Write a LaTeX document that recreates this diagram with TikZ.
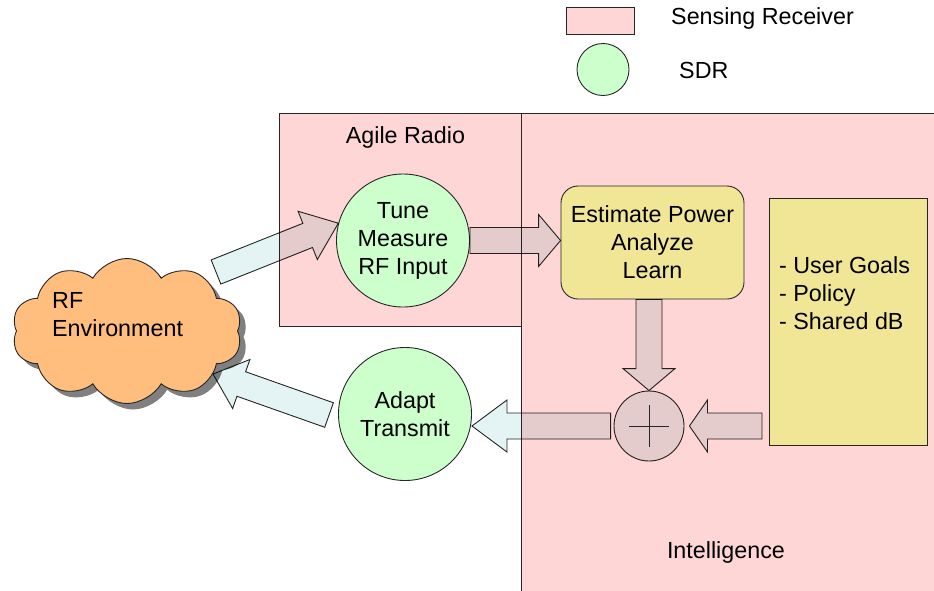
\documentclass[tikz,border=0pt]{standalone}
\usepackage{fontspec}
\setmainfont{Liberation Sans}
\usetikzlibrary{shapes.symbols,shadows,calc,positioning}

\definecolor{senspink}{RGB}{255,214,214}
\definecolor{sdrgreen}{RGB}{204,255,204}
\definecolor{procyellow}{RGB}{240,230,150}
\definecolor{envorange}{RGB}{255,190,125}
\definecolor{flowfill}{RGB}{228,244,244}

\tikzset{
  sensbox/.style={draw=black!85, fill=senspink, line width=0.9pt, inner sep=0pt},
  sdr/.style={circle, draw=black!85, fill=sdrgreen, line width=0.9pt, minimum size=133pt, inner sep=0pt, align=center},
  procbox/.style={draw=black!85, fill=procyellow, line width=0.9pt},
  flowarrow/.style={draw=black!85, fill=flowfill, blend mode=multiply, line width=0.9pt, line join=miter},
  sumnode/.style={circle, draw=black!85, fill=flowfill, blend mode=multiply, line width=0.9pt, minimum size=70pt, inner sep=0pt}
}

% block arrow from #2 to #3, head length #1
\newcommand{\fatarrow}[3][24]{%
  \coordinate (fa-s) at (#2);
  \coordinate (fa-e) at (#3);
  \coordinate (fa-h) at ($(fa-e)!#1pt!(fa-s)$);
  \filldraw[flowarrow] ($(fa-s)!13pt!90:(fa-e)$) -- ($(fa-h)!13pt!90:(fa-e)$)
    -- ($(fa-h)!26pt!90:(fa-e)$) -- (fa-e) -- ($(fa-h)!26pt!-90:(fa-e)$)
    -- ($(fa-h)!13pt!-90:(fa-e)$) -- ($(fa-s)!13pt!-90:(fa-e)$) -- cycle;
}

\begin{document}
\begin{tikzpicture}[x=1pt,y=-1pt,font=\fontsize{23.3}{28}\selectfont]
\useasboundingbox (0,0) rectangle (934,590);

% sensing receivers
\node[sensbox, minimum width=242pt, minimum height=213pt, anchor=north west] (agile) at (279,113) {};
\node[sensbox, minimum width=415pt, minimum height=479pt, anchor=north west] (intel) at (521,113) {};
\node[below=10pt of agile.north, xshift=5pt] (agiletitle) {Agile Radio};
\node[above=26pt of intel.south, xshift=-3pt] (inteltitle) {Intelligence};

% legend
\node[sensbox, minimum width=68pt, minimum height=27pt] (legbox) at (600,20.5) {};
\node[sdr, minimum size=52pt] (legsdr) at (603,69.5) {};
\node[anchor=west, inner sep=0pt] (legboxtext) at (671,18) {Sensing Receiver};
\node[anchor=west, inner sep=0pt] (legsdrtext) at (679,70) {SDR};

% blocks
\node[sdr] (tune) at (403,240.5) {Tune\\Measure\\RF Input};
\node[sdr] (adapt) at (405,414) {Adapt\\Transmit};
\node[procbox, rounded corners=17pt, minimum width=183pt, minimum height=113pt, align=center] (est) at (652.5,242.5) {Estimate Power\\Analyze\\Learn};
\node[procbox, minimum width=158pt, minimum height=247pt, anchor=north west] (goals) at (769,198) {};
\node[anchor=north west, align=left, inner sep=0pt] (goalstext) at (779,256) {- User Goals\\- Policy\\- Shared dB};
\node[sumnode] (plus) at (649,426) {};
\draw[black!85, line width=0.9pt] ($(plus.center)+(-20,0)$) -- ($(plus.center)+(20,0)$);
\draw[black!85, line width=0.9pt] ($(plus.center)+(0,-21)$) -- ($(plus.center)+(0,21)$);

% environment
\node[cloud, cloud puffs=10, cloud puff arc=120, aspect=1.55, draw=black!85, fill=envorange, line width=0.9pt,
  minimum width=230pt, minimum height=145pt, inner sep=0pt,
  drop shadow={shadow xshift=6pt, shadow yshift=-6pt, fill=black!50, opacity=1}] (env) at (127,331) {};
\node[anchor=north west, align=left, inner sep=0pt] (envtext) at (52,292) {RF\\Environment};

% flow
\coordinate (envout) at (216,272);
\coordinate (envin) at (213,374);
\coordinate (adaptout) at ($(adapt.west)+(-9,1)$);
\coordinate (goalsout) at ($(goals.west |- plus.east)+(-7,0)$);
\coordinate (plusin) at ($(plus.east)+(5,0)$);
\coordinate (plusout) at ($(plus.west)+(-3,0)$);

\fatarrow[33]{envout}{tune.165}
\fatarrow[22]{tune.east}{tune.east -| est.west}
\fatarrow[22]{plus.north |- est.south}{plus.north}
\fatarrow[18]{goalsout}{plusin}
\fatarrow[35]{plusout}{plusout -| adapt.east}
\fatarrow[30]{adaptout}{envin}
\end{tikzpicture}
\end{document}
